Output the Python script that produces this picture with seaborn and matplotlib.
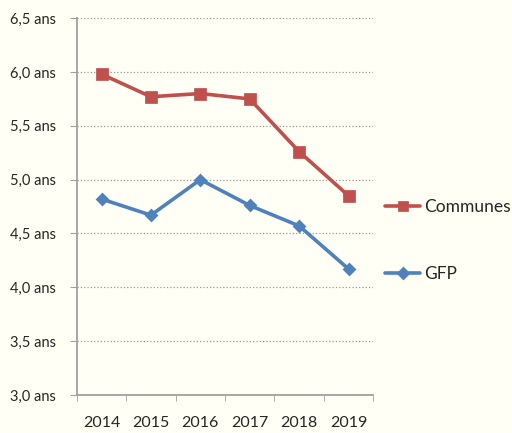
import pandas as pd
import matplotlib.pyplot as plt
import seaborn as sns
from matplotlib.ticker import FuncFormatter, MultipleLocator

# values
years = ["2014", "2015", "2016", "2017", "2018", "2019"]
communes = [5.98, 5.77, 5.80, 5.75, 5.26, 4.85]
gfp = [4.82, 4.67, 5.00, 4.76, 4.57, 4.17]
series_names = ["Communes", "GFP"]

df = pd.DataFrame({
    "annee": years * 2,
    "duree": communes + gfp,
    "serie": [series_names[0]] * len(years) + [series_names[1]] * len(years),
})

sns.set_style("white")
plt.rcParams["font.family"] = ["Lato", "DejaVu Sans"]
bg = "#fffff5"

fig = plt.figure(figsize=(5.12, 4.33), dpi=100, facecolor=bg)
ax = fig.add_axes([0.150, 0.088, 0.579, 0.870], facecolor=bg)

sns.pointplot(data=df, x="annee", y="duree", hue="serie", order=years,
              palette={"Communes": "#c0504d", "GFP": "#4f81bd"},
              markers=["s", "D"], linestyles=["-", "-"],
              errorbar=None, markersize=7.5, linewidth=2.6, ax=ax)

# diamonds are a bit smaller than the squares
for ln in ax.lines:
    if ln.get_marker() == "D":
        ln.set_markersize(5.5)

ax.set_xlim(-0.5, 5.5)
ax.set_ylim(3.0, 6.5)
ax.yaxis.set_major_locator(MultipleLocator(0.5))
ax.yaxis.set_major_formatter(FuncFormatter(lambda v, p: f"{v:.1f}".replace(".", ",") + " ans"))
ax.grid(axis="y", color="#999999", linestyle=":", linewidth=0.9)
ax.set_axisbelow(True)

# ticks between categories on the x axis
ax.set_xticks([i - 0.5 for i in range(len(years) + 1)], minor=True)
ax.tick_params(axis="x", which="minor", length=4, color="#a0a0a0", direction="out")
ax.tick_params(axis="x", which="major", length=0, pad=15, labelsize=11.5)
ax.tick_params(axis="y", length=5, color="#a0a0a0", direction="out", labelsize=10.5, pad=10)
ax.yaxis.set_ticks_position("left")
ax.xaxis.set_ticks_position("bottom")

for side in ["top", "right"]:
    ax.spines[side].set_visible(False)
for side in ["left", "bottom"]:
    ax.spines[side].set_color("#a0a0a0")
    ax.spines[side].set_linewidth(1.3)

ax.set_xlabel("")
ax.set_ylabel("")

leg = ax.legend(loc="center left", bbox_to_anchor=(1.0, 0.41), frameon=False,
                labelspacing=2.9, handlelength=2.0, handletextpad=0.25, fontsize=12.5,
                borderaxespad=0.3)
for h in leg.legend_handles:
    h.set_markersize(6 if h.get_marker() == "s" else 5)

fig.savefig("out.png", dpi=100, facecolor=bg)
